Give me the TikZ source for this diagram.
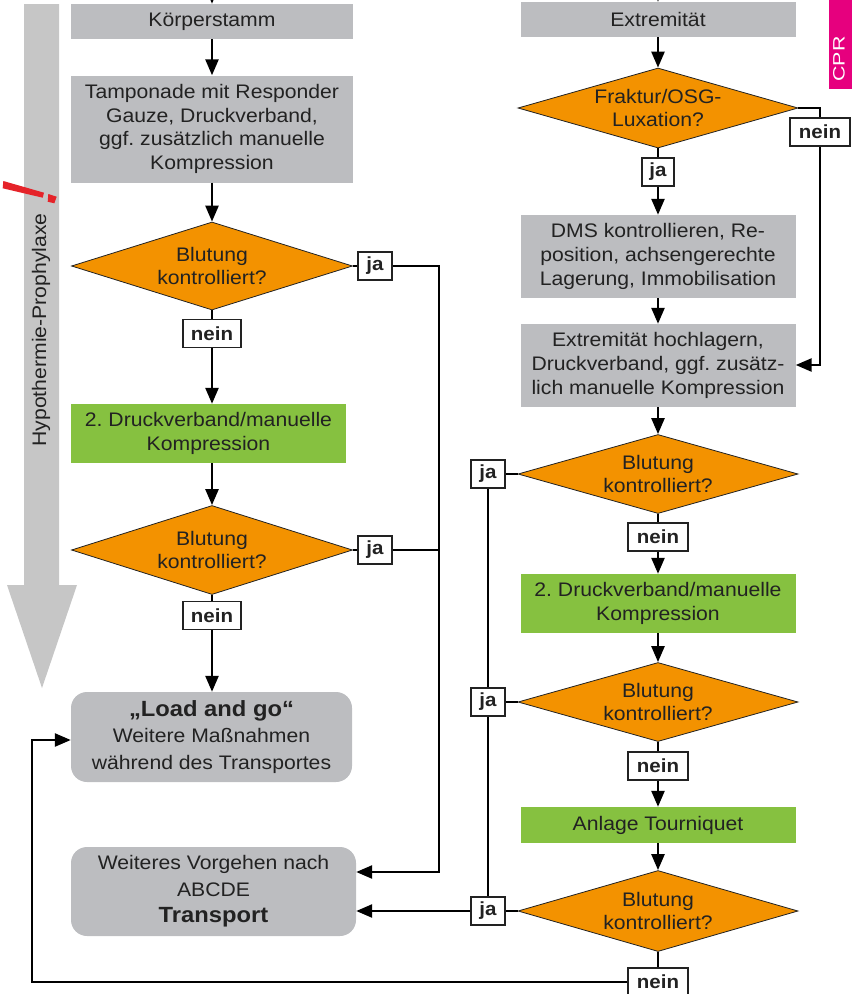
\documentclass[tikz,border=0pt]{standalone}
\usepackage{fontspec}
\setmainfont{Liberation Sans}[FakeStretch=1.08]
\frenchspacing
\usetikzlibrary{shapes.geometric,arrows.meta}
\definecolor{boxgray}{HTML}{BCBDC0}
\definecolor{decor}{HTML}{F39200}
\definecolor{actgreen}{HTML}{86C140}
\definecolor{railgray}{HTML}{C6C6C6}
\definecolor{tabpink}{HTML}{E6007E}
\definecolor{warnred}{HTML}{E52329}
\definecolor{ink}{HTML}{222222}
\tikzset{
  base/.style={font=\fontsize{19.6}{23.7}\selectfont, text=ink, align=center, inner sep=0pt},
  graybox/.style={base, rectangle, fill=boxgray},
  greenbox/.style={base, rectangle, fill=actgreen},
  endbox/.style={base, rectangle, fill=boxgray, rounded corners=16pt, font=\fontsize{19.6}{26.5}\selectfont},
  decision/.style={base, diamond, fill=decor, draw=ink, line width=0.8pt, shape aspect=3.6, minimum width=280pt},
  answer/.style={base, font=\fontsize{19}{22}\selectfont\bfseries, fill=white, draw=ink, line width=1.2pt, minimum height=28pt},
  flow/.style={line width=2.5pt, black},
  arr/.style={flow, -{Triangle[length=16pt,width=13pt]}},
}
\begin{document}
\begin{tikzpicture}[x=1pt,y=-1pt]
\useasboundingbox (0,0) rectangle (852,994);

% hypothermia band with arrow head
\fill[railgray] (24,4) -- (59,4) -- (59,585) -- (77,585) -- (42,688) -- (7,585) -- (24,585) -- cycle;
\node[base, rotate=90] (hypo) at (41,330) {Hypothermie-Prophylaxe};

% red exclamation mark
\fill[warnred] (3.3,181) -- (44,192.7) -- (42.7,197.7) -- (2.7,188.3) -- cycle;
\fill[warnred] (48.3,194) -- (56.7,196.7) -- (54.3,203.3) -- (47.7,201.7) -- cycle;

% CPR tab
\fill[tabpink] (829,0) rectangle (852,89);
\node[base, text=white, rotate=90, font=\fontsize{16.5}{18}\selectfont] (cpr) at (839,59) {\scalebox{1.2}[1]{CPR}};

% left branch: trunk
\node[graybox, minimum width=282pt, minimum height=35pt] (korper) at (212,21.5) {Körperstamm};
\node[graybox, minimum width=282pt, minimum height=107pt] (tamp) at (212,129) {Tamponade mit Responder\\Gauze, Druckverband,\\ggf. zusätzlich manuelle\\Kompression};
\node[decision, minimum width=281pt, minimum height=88pt] (d1) at (212,266) {Blutung\\kontrolliert?};
\node[answer, minimum width=34pt] (ja1) at (375,266) {ja};
\node[answer, minimum width=58pt] (nein1) at (212,333.5) {nein};
\node[greenbox, minimum width=275pt, minimum height=59pt] (grn1) at (208.5,433.5) {2. Druckverband/manuelle\\Kompression};
\node[decision, minimum width=281pt, minimum height=89pt] (d2) at (212,550) {Blutung\\kontrolliert?};
\node[answer, minimum width=34pt] (ja2) at (375,550) {ja};
\node[answer, minimum width=58pt] (nein2) at (212,615.5) {nein};
\node[endbox, minimum width=281pt, minimum height=90pt] (load) at (211.5,737) {{\fontsize{22}{26.5}\selectfont\bfseries „Load and go“}\\Weitere Maßnahmen\\während des Transportes};
\node[endbox, minimum width=285pt, minimum height=89pt] (weiter) at (213.5,891.5) {Weiteres Vorgehen nach\\ABCDE\\{\fontsize{22}{26.5}\selectfont\bfseries Transport}};

% right branch: extremity
\node[graybox, minimum width=275pt, minimum height=35pt] (extrem) at (658,19.5) {Extremität};
\node[decision, minimum height=80pt] (d0) at (658,108) {Fraktur/OSG-\\Luxation?};
\node[answer, minimum width=32pt] (ja0) at (658,172) {ja};
\node[answer, minimum width=60pt] (nein0) at (820,132) {nein};
\node[graybox, minimum width=275pt, minimum height=83pt] (dms) at (658,256.5) {DMS kontrollieren, Re-\\position, achsengerechte\\Lagerung, Immobilisation};
\node[graybox, minimum width=275pt, minimum height=83pt] (hoch) at (658,365.5) {Extremität hochlagern,\\Druckverband, ggf. zusätz-\\lich manuelle Kompression};
\node[decision, minimum height=79pt] (d3) at (658,474) {Blutung\\kontrolliert?};
\node[answer, minimum width=34pt] (ja3) at (488,474) {ja};
\node[answer, minimum width=60pt] (nein3) at (658,537) {nein};
\node[greenbox, minimum width=275pt, minimum height=59pt] (grn2) at (658,603.5) {2. Druckverband/manuelle\\Kompression};
\node[decision, minimum height=79pt] (d4) at (658,702) {Blutung\\kontrolliert?};
\node[answer, minimum width=34pt] (ja4) at (488,702) {ja};
\node[answer, minimum width=60pt] (nein4) at (658,766) {nein};
\node[greenbox, minimum width=275pt, minimum height=36pt] (tourn) at (658,825) {Anlage Tourniquet};
\node[decision, minimum height=81pt] (d5) at (658,911) {Blutung\\kontrolliert?};
\node[answer, minimum width=34pt] (ja5) at (488,911) {ja};
\node[answer, minimum width=60pt] (nein5) at (658,982) {nein};

% helper points for bends and incoming stubs
\coordinate (topL) at (212,-30);
\coordinate (topR) at (658,-30);
\coordinate (railTop) at (439,266);
\coordinate (railBot) at (439,872);
\coordinate (n0a) at (820,108);
\coordinate (n0b) at (820,365);
\coordinate (loopA) at (32,982);
\coordinate (loopB) at (32,740);

% left connectors
\draw[arr] (topL) -- (korper.north);
\draw[arr] (korper) -- (tamp);
\draw[arr] (tamp) -- (d1);
\draw[flow] (d1.south) -- (nein1.north);
\draw[arr] (nein1.south) -- (nein1.south |- grn1.north);
\draw[arr] (d2.north |- grn1.south) -- (d2.north);
\draw[flow] (d2.south) -- (nein2.north);
\draw[arr] (nein2.south) -- (nein2.south |- load.north);
\draw[flow] (d1.east) -- (ja1.west);
\draw[arr] (ja1.east) -- (railTop) -- (railBot) -- (railBot -| weiter.east);
\draw[flow] (d2.east) -- (ja2.west);
\draw[flow] (ja2.east) -- (ja2.east -| railTop);

% right connectors
\draw[arr] (topR) -- (extrem.north);
\draw[arr] (extrem) -- (d0);
\draw[flow] (d0.south) -- (ja0.north);
\draw[arr] (ja0) -- (dms);
\draw[arr] (dms) -- (hoch);
\draw[flow] (d0.east) -- (n0a) -- (nein0.north);
\draw[arr] (nein0.south) -- (n0b) -- (n0b -| hoch.east);
\draw[arr] (hoch) -- (d3);
\draw[flow] (d3.south) -- (nein3.north);
\draw[arr] (nein3) -- (grn2);
\draw[arr] (grn2) -- (d4);
\draw[flow] (d4.south) -- (nein4.north);
\draw[arr] (nein4) -- (tourn);
\draw[arr] (tourn) -- (d5);
\draw[flow] (d5.south) -- (nein5.north);

% "ja" rail on the right and return paths
\draw[flow] (d3.west) -- (ja3.east);
\draw[flow] (d4.west) -- (ja4.east);
\draw[flow] (d5.west) -- (ja5.east);
\draw[flow] (ja3.south) -- (ja4.north);
\draw[flow] (ja4.south) -- (ja5.north);
\draw[arr] (ja5.west) -- (ja5.west -| weiter.east);
\draw[arr] (nein5.west) -- (loopA) -- (loopB) -- (loopB -| load.west);
\end{tikzpicture}
\end{document}
